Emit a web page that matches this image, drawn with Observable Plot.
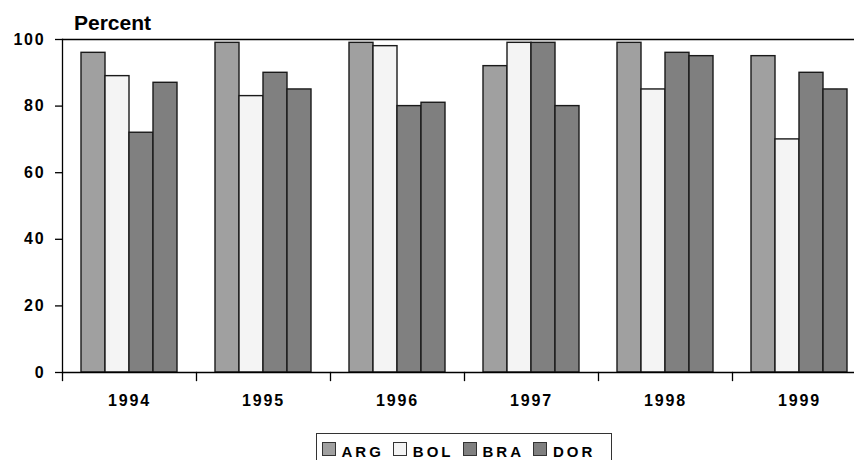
<!DOCTYPE html>
<html>
<head>
<meta charset="utf-8">
<script src="https://cdn.jsdelivr.net/npm/d3@7"></script>
<script src="https://cdn.jsdelivr.net/npm/@observablehq/plot@0.6"></script>
<style>
  html, body { margin: 0; padding: 0; background: #fff; }
  #wrap { position: relative; width: 854px; height: 460px; overflow: hidden; font-family: "Liberation Sans", Arial, sans-serif; }
  #title { position: absolute; left: 74px; top: 12px; font-size: 21px; line-height: 21px; font-weight: bold; color: #000; }
  #chart { position: absolute; left: 0; top: 0; }
  #legend { position: absolute; left: 316px; top: 433px; width: 296px; height: 40px; box-sizing: border-box;
            border: 1.5px solid #333; padding: 8px 0 0 4.5px; display: flex; align-items: flex-start; gap: 9px; }
  .item { display: flex; align-items: flex-start; }
  .sw { width: 12px; height: 12px; border: 1px solid #333; }
  .lab { margin-left: 6px; margin-top: 1.5px; font-size: 15px; line-height: 15px; font-weight: bold; letter-spacing: 3px; color: #000; }
</style>
</head>
<body>
<div id="wrap">
  <div id="chart"></div>
  <div id="title">Percent</div>
  <div id="legend"></div>
</div>
<script>
const years = ["1994", "1995", "1996", "1997", "1998", "1999"];
const series = ["ARG", "BOL", "BRA", "DOR"];
const ARG = [96, 99, 99, 92, 99, 95];
const BOL = [89, 83, 98, 99, 85, 70];
const BRA = [72, 90, 80, 99, 96, 90];
const DOR = [87, 85, 81, 80, 95, 85];
const colors = ["#a0a0a0", "#f4f4f4", "#808080", "#7f7f7f"];
const yTicks = [0, 20, 40, 60, 80, 100];

const values = [ARG, BOL, BRA, DOR];
const data = years.flatMap((yr, i) => series.map((s, j) => ({year: yr, series: s, value: values[j][i]})));

const W = 854, H = 420, mTop = 39, mBottom = 48, mLeft = 61, fxRight = 867;
const plotH = H - mTop - mBottom;

const chart = Plot.plot({
  width: W, height: H,
  marginLeft: mLeft, marginTop: mTop, marginBottom: mBottom, marginRight: 0,
  style: {fontFamily: "'Liberation Sans', Arial, sans-serif", fontWeight: "bold", letterSpacing: "1.8px", color: "#000", background: "transparent", overflow: "visible"},
  fx: {domain: years, range: [mLeft, fxRight], padding: 0, label: null},
  x: {domain: series, paddingInner: 0, paddingOuter: 0.74, axis: null},
  y: {domain: [0, 100], label: null},
  color: {domain: series, range: colors},
  marks: [
    Plot.barY(data, {fx: "year", x: "series", y: "value", fill: "series", stroke: "#1a1a1a", strokeWidth: 1.4}),
    Plot.ruleY([0, 100], {stroke: "#000", strokeWidth: 1.3}),
    Plot.frame({anchor: "left", facetAnchor: "left", stroke: "#000", strokeWidth: 1.3}),
    Plot.frame({anchor: "left", insetTop: plotH, insetBottom: -8, stroke: "#000", strokeWidth: 1.3}),
    Plot.axisY({ticks: yTicks, tickSize: 7, tickPadding: 10, fontSize: 16, label: null, stroke: "#000", strokeWidth: 1.3}),
    Plot.axisFx({anchor: "bottom", tickSize: 0, tickPadding: 22, fontSize: 16, label: null})
  ]
});
document.getElementById("chart").appendChild(chart);

const legend = document.getElementById("legend");
series.forEach((s, i) => {
  const it = document.createElement("div");
  it.className = "item";
  const sw = document.createElement("div");
  sw.className = "sw";
  sw.style.background = colors[i];
  const lab = document.createElement("div");
  lab.className = "lab";
  lab.textContent = s;
  it.appendChild(sw);
  it.appendChild(lab);
  legend.appendChild(it);
});
</script>
</body>
</html>
